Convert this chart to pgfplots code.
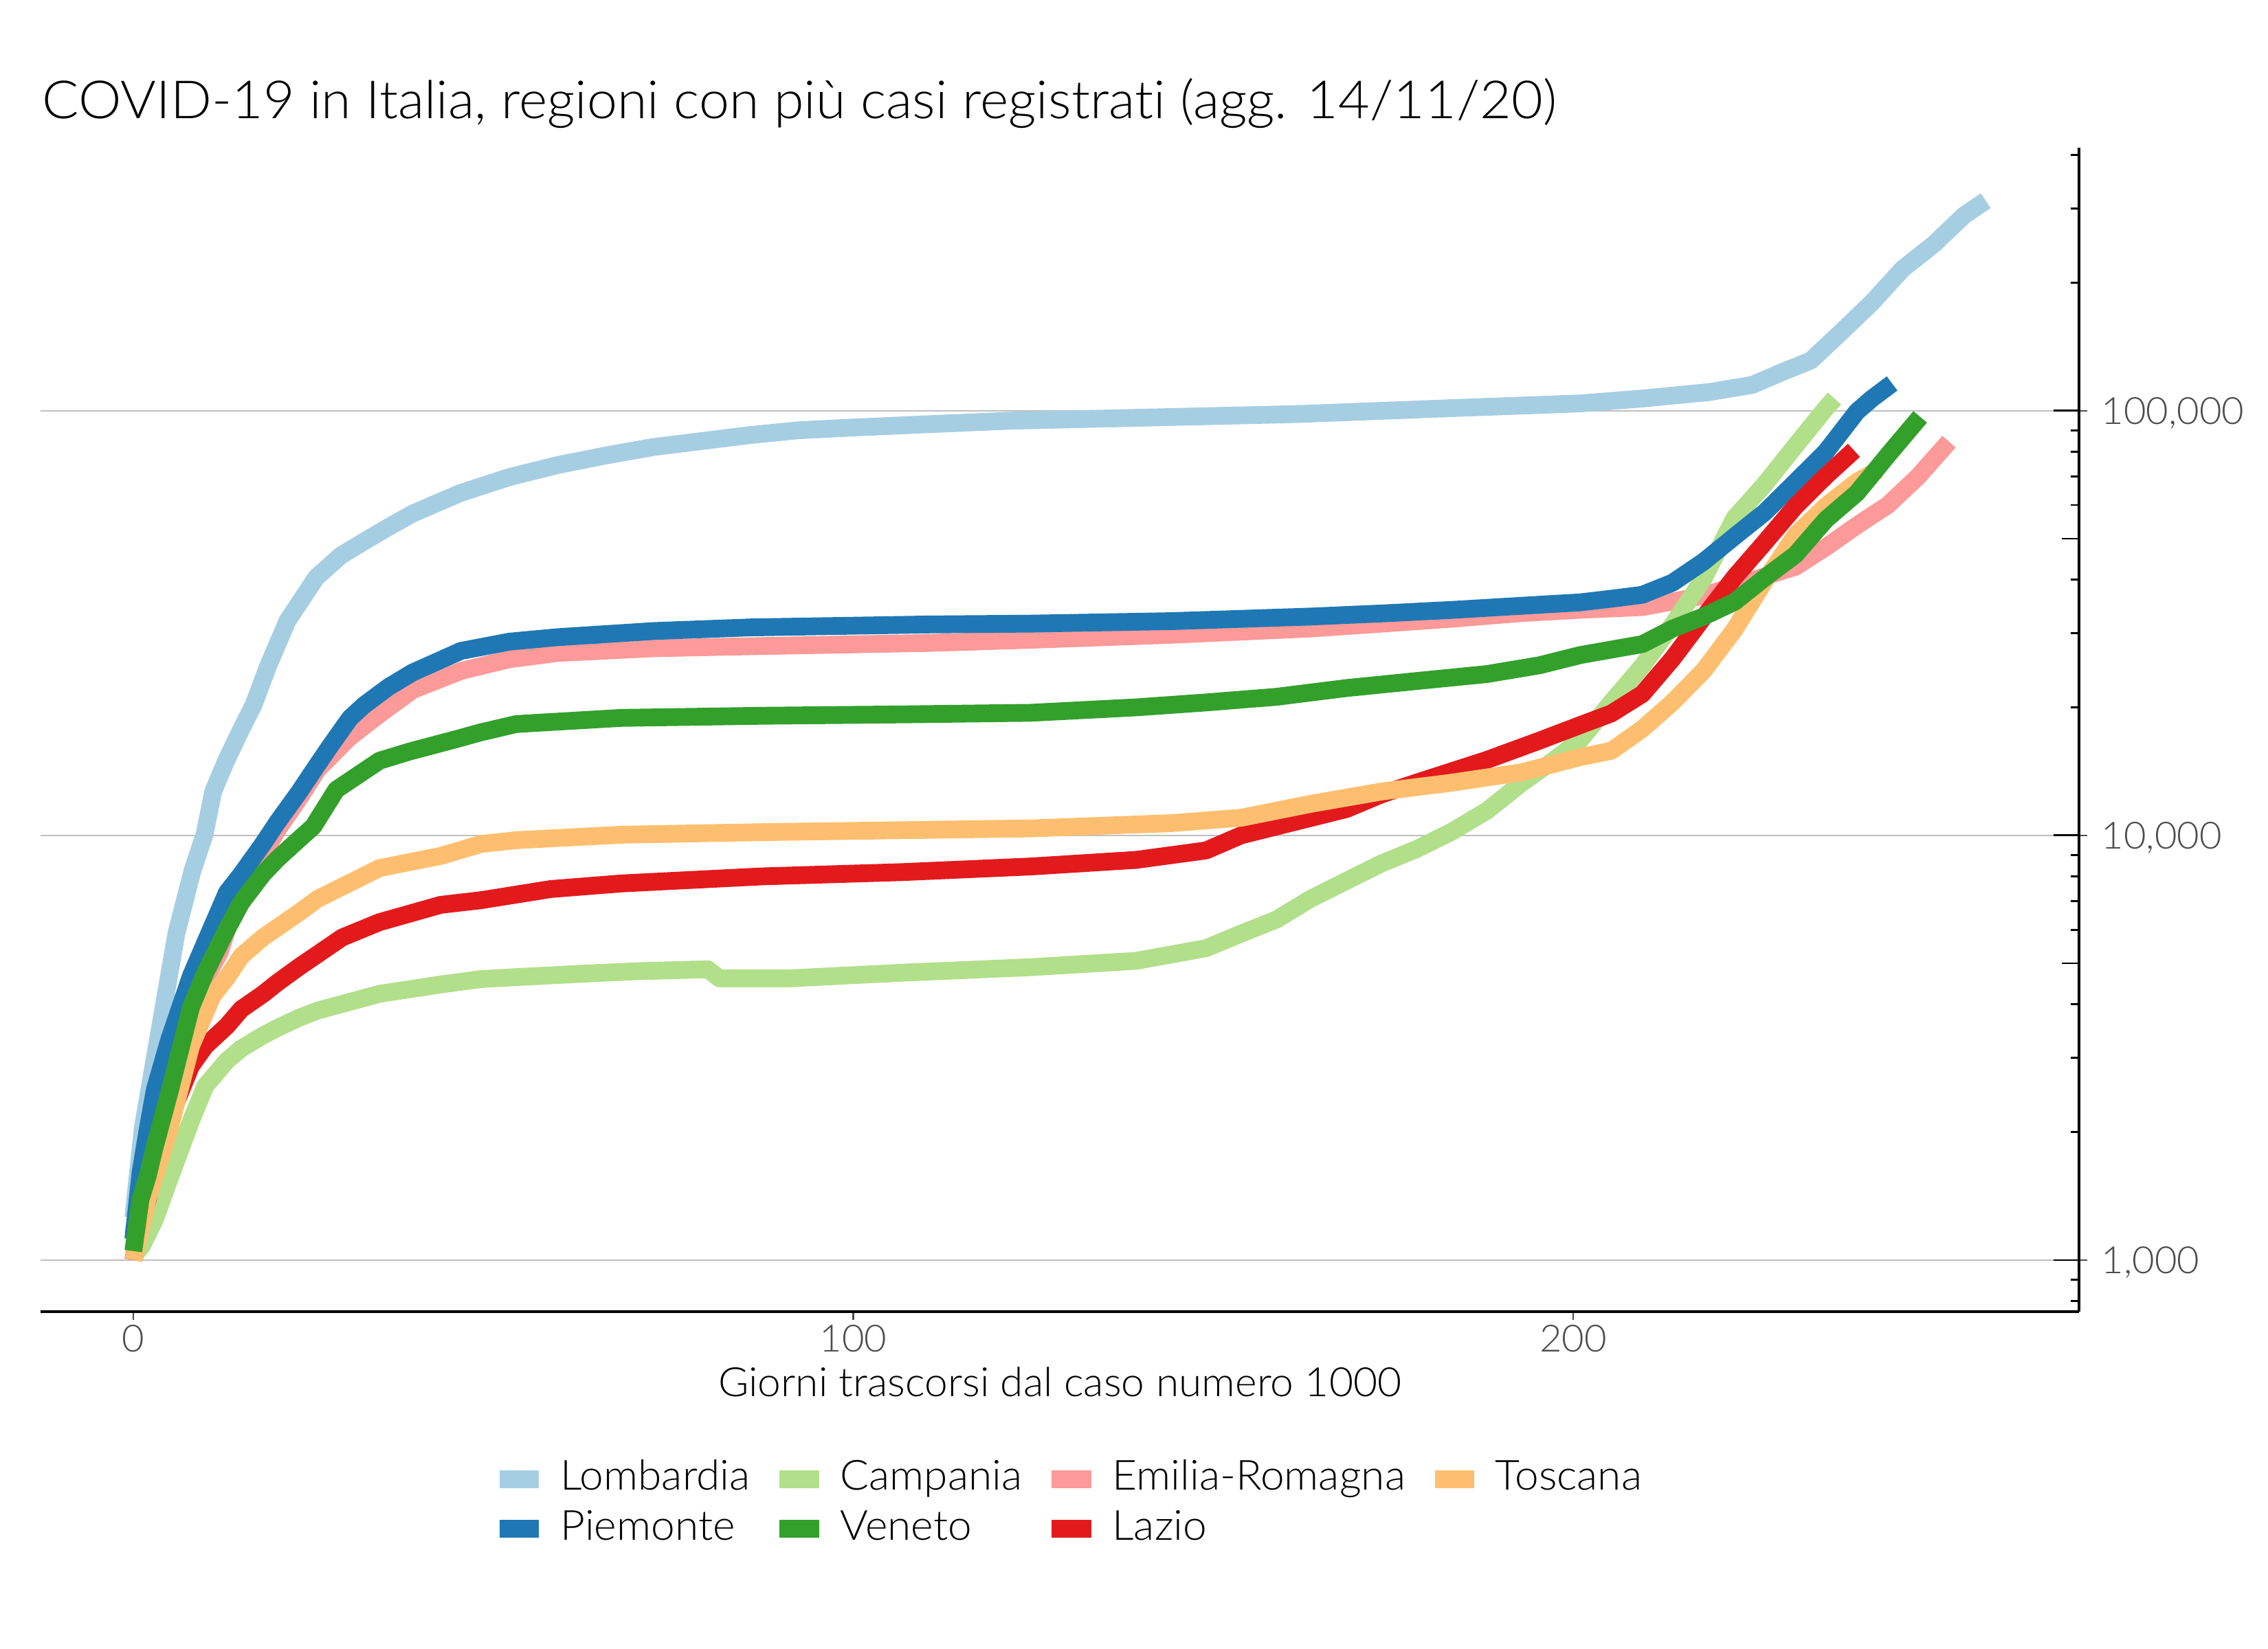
\documentclass[border=0pt]{standalone}
\usepackage{fontspec}
\setmainfont{Lato}[UprightFont={* Light}, FakeStretch=1.03, Ligatures=NoCommon]
\usepackage{pgfplots}
\pgfplotsset{compat=1.18}
\definecolor{lomb}{HTML}{A6CEE3}
\definecolor{piem}{HTML}{1F78B4}
\definecolor{camp}{HTML}{B2DF8A}
\definecolor{vene}{HTML}{33A02C}
\definecolor{emil}{HTML}{FB9A99}
\definecolor{lazi}{HTML}{E31A1C}
\definecolor{tosc}{HTML}{FDBF6F}
\definecolor{ticktext}{HTML}{4D4D4D}
\begin{document}
\begin{tikzpicture}
\useasboundingbox (0,0) rectangle (792bp,576bp);
\begin{axis}[
  at={(14.16bp,117.84bp)}, anchor=south west, scale only axis,
  width=711.84bp, height=406.56bp,
  xmin=-12.888, xmax=270.26,
  ymode=log, ymin=756.3, ymax=416600,
  axis x line*=bottom, axis y line*=right,
  axis line style={-, black, line width=0.8bp},
  xtick={0,100,200}, xticklabels={0,100,200},
  ytick={1000,10000,100000}, yticklabels={{1,000},{10,000},{100,000}},
  tick align=outside, major tick length=2.8bp, minor tick length=0pt,
  tick style={black!70, line width=0.5bp},
  ymajorgrids, xmajorgrids=false,
  major grid style={black!25, line width=0.4bp},
  xticklabel style={font=\fontsize{13.1bp}{15bp}\selectfont, text=ticktext, anchor=base, yshift=-11.3bp, inner sep=0pt},
  yticklabel style={font=\fontsize{13.1bp}{15bp}\selectfont, text=ticktext, anchor=base west, xshift=4.8bp, yshift=-4.68bp, inner sep=0pt},
  xlabel={Giorni trascorsi dal caso numero 1000},
  xlabel style={font=\fontsize{14.1bp}{17bp}\selectfont, at={(axis description cs:0.5,-0.0732)}, anchor=base, inner sep=0pt},
  legend columns=4,
  legend cell align=left,
  legend image code/.code={\draw[#1, line width=6.24bp, line cap=butt] (0bp,0bp) -- (13.8bp,0bp);},
  legend style={draw=none, fill=none, at={(0.2208,-0.1275)}, anchor=north west,
    inner sep=0pt, outer sep=0pt,
    font=\fontsize{14.5bp}{17bp}\selectfont,
    /tikz/every odd column/.style={column sep=4.3bp},
    /tikz/every even column/.style={column sep=7.1bp},
    row sep=3.85bp,
    nodes={inner sep=0pt, text height=10.5bp, text depth=3bp}},
  every axis plot/.append style={line width=6.2bp, line join=round, line cap=butt},
]
\addlegendimage{lomb}\addlegendentry{Lombardia}
\addlegendimage{camp}\addlegendentry{Campania}
\addlegendimage{emil}\addlegendentry{Emilia-Romagna}
\addlegendimage{tosc}\addlegendentry{Toscana}
\addlegendimage{piem}\addlegendentry{Piemonte}
\addlegendimage{vene}\addlegendentry{Veneto}
\addlegendimage{lazi}\addlegendentry{Lazio}

% Lombardia
\addplot[lomb, forget plot] coordinates {(0,1260) (1.3,2040) (3.5,3360) (6,5900) (8.2,8240) (9.9,10070) (11.1,12700) (12.9,15000) (15,17800) (16.7,20300) (18.7,25000) (21.4,32000) (23.4,36000) (25.4,40500) (28.8,45600) (32.1,49300) (35.5,53300) (38.8,57300) (45.5,64100) (52.2,69800) (58.9,74500) (65.6,78500) (72.3,82200) (79,84900) (85.7,87700) (92.4,90000) (99.1,91200) (110.4,93000) (122,94800) (142,96500) (162,98300) (182,101300) (201,104100) (209.6,106900) (218.9,110700) (224.9,115100) (228.8,122900) (233,131300) (237.3,153700) (241.5,179900) (245.8,216200) (250.1,246800) (254.3,288700) (257.3,312500)};
% Emilia-Romagna
\addplot[emil, forget plot] coordinates {(0,1150) (1,1450) (2,1800) (3,2150) (5,2900) (8,3900) (10,4600) (12,5300) (13,6000) (15,7300) (18,9000) (20,10300) (23,12200) (25.6,14300) (30,17000) (34.2,19300) (38.8,22000) (45.5,24400) (52.2,26000) (58.9,26900) (72.3,27600) (85.7,27900) (110.4,28400) (124.7,28900) (144.2,29690) (163.6,30730) (173.4,31540) (183.1,32390) (192.9,33410) (201,34000) (209.6,34500) (218.1,36690) (226.6,40750) (230.9,42950) (235.1,47730) (239.4,53710) (243.7,59970) (247.9,70000) (252.2,84610)};
% Campania
\addplot[camp, forget plot] coordinates {(0,1020) (1.2,1080) (3,1247) (5,1550) (8,2125) (10,2570) (13,2950) (15,3150) (18,3380) (20,3520) (23,3720) (25.6,3870) (34.2,4237) (42.7,4457) (48.3,4590) (53.3,4640) (63,4730) (70,4790) (79.8,4840) (81.4,4607) (91,4607) (106.7,4750) (124.7,4895) (139.3,5067) (149,5427) (153.9,5876) (158.8,6340) (163.6,7105) (168.5,7816) (173.4,8597) (178.2,9280) (183.1,10200) (188,11430) (192.9,13310) (197,14900) (201,16800) (205.3,20590) (209.6,25070) (213.8,31350) (218.1,40230) (222.4,55880) (226.6,67150) (230.9,82860) (235.1,101460) (236.3,106900)};
% Piemonte
\addplot[piem, forget plot] coordinates {(0,1120) (1,1606) (2,2033) (3,2525) (5,3311) (8,4670) (10,5600) (13,7340) (15,8110) (18,9550) (20,10740) (23,12630) (25,14200) (27.3,16200) (30.1,18900) (32.1,20300) (35.5,22400) (38.8,24200) (45.5,27200) (52.2,28600) (58.9,29300) (72.3,30300) (85.7,30900) (110.4,31400) (124.7,31540) (144.2,31970) (163.6,32780) (173.4,33330) (183.1,33970) (192.9,34750) (201,35400) (205.3,36100) (209.6,36880) (213.8,39390) (218.1,44120) (222.4,50570) (226.6,57660) (230.9,68070) (235.1,80080) (239.4,99540) (241.5,106900) (244.3,116000)};
% Lazio
\addplot[lazi, forget plot] coordinates {(0,1000) (1,1225) (2,1390) (3,1667) (5,2148) (8,2864) (10,3194) (13,3560) (15,3900) (18,4230) (20,4500) (23,4900) (25.6,5250) (29,5750) (34.2,6250) (42.7,6865) (48.3,7040) (58,7480) (67.8,7710) (87.3,8010) (106.7,8196) (124.7,8452) (139.3,8760) (149,9220) (153.9,10010) (158.8,10500) (168.5,11540) (173.4,12500) (178.2,13310) (188,15060) (195.3,16720) (201,18200) (205.3,19380) (209.6,21530) (213.8,26080) (218.1,32610) (222.4,40540) (226.6,48980) (230.9,59670) (235.1,70230) (239,80720)};
% Toscana
\addplot[tosc, forget plot] coordinates {(0,1000) (2,1400) (5,2030) (8,3190) (10,3830) (11,4190) (13,4625) (15,5200) (18,5750) (20,6070) (23,6580) (25.6,7090) (34.2,8380) (42.7,8950) (48.3,9550) (53.3,9750) (67.8,10040) (87.3,10180) (106.7,10290) (124.7,10390) (144.2,10690) (153.9,11010) (163.6,11875) (173.4,12695) (183.1,13310) (192.9,14090) (201,15300) (205.3,15830) (209.6,17820) (213.8,20590) (218.1,24420) (222.4,30530) (226.6,39710) (230.9,50960) (235.1,59670) (239.4,68070) (242.4,72660)};
% Veneto
\addplot[vene, forget plot] coordinates {(0,1050) (1,1390) (2,1578) (3,1857) (5,2477) (8,3935) (10,4750) (13,6010) (15,6950) (18,8110) (20,8800) (23,9790) (25,10500) (28.2,12820) (34.2,15000) (38.4,15770) (44.8,16850) (48.3,17500) (53.2,18300) (67.8,18920) (87.3,19140) (106.7,19280) (124.7,19450) (139.3,20030) (149,20570) (158.8,21210) (168.5,22240) (178.2,23100) (188,23990) (195.3,25160) (201,26600) (209.6,28220) (213.8,30690) (218.1,32780) (222.4,35480) (226.6,40440) (230.9,45880) (235.1,55440) (239.4,64040) (243.7,78610) (245.8,86630) (248.2,96790)};
\end{axis}
% log ticks on the right axis
\begin{axis}[
  at={(14.16bp,117.84bp)}, anchor=south west, scale only axis,
  width=711.84bp, height=406.56bp,
  xmin=-12.888, xmax=270.26,
  ymode=log, ymin=756.3, ymax=416600,
  axis x line=none, axis y line*=right, axis line style={draw=none},
  ytick={1000,10000,100000}, yticklabels={},
  minor ytick={800,900,2000,3000,4000,6000,7000,8000,9000,20000,30000,40000,60000,70000,80000,90000,200000,300000,400000},
  extra y ticks={5000,50000}, extra y tick labels={},
  extra y tick style={major tick length=6bp},
  tick align=inside, major tick length=8.8bp, minor tick length=2.96bp,
  tick style={black, line width=0.7bp},
]
\end{axis}
\node[anchor=base west, inner sep=0pt, font=\fontsize{18.4bp}{22bp}\selectfont] at (14.64bp,534.5bp) {COVID-19 in Italia, regioni con più casi registrati (agg. 14/11/20)};
\end{tikzpicture}
\end{document}
